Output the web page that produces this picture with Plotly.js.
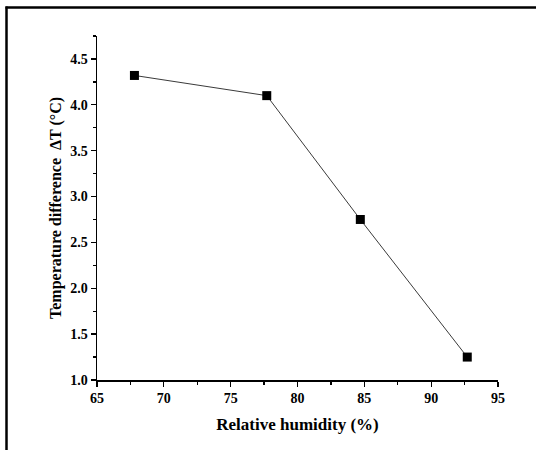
<!DOCTYPE html>
<html>
<head>
<meta charset="utf-8">
<script src="https://cdn.plot.ly/plotly-3.0.1.min.js"></script>
<style>
html,body{margin:0;padding:0;background:#fff;}
#chart{width:536px;height:450px;}
</style>
</head>
<body>
<div id="chart"></div>
<script>
const humidity = [67.8, 77.7, 84.7, 92.7];
const deltaT = [4.32, 4.10, 2.75, 1.25];
const xTicks = [65, 70, 75, 80, 85, 90, 95];
const yTicks = [1.0, 1.5, 2.0, 2.5, 3.0, 3.5, 4.0, 4.5];

const fontFam = 'Times New Roman, Liberation Serif, Tinos, serif';

const trace = {
  x: humidity,
  y: deltaT,
  mode: 'lines+markers',
  type: 'scatter',
  line: {color: '#3a3a3a', width: 1},
  marker: {symbol: 'square', size: 9, color: '#000000'},
  cliponaxis: false,
  hoverinfo: 'none'
};

const L = 97, R = 38, T = 36, B = 70, W = 536, H = 450;
const pw = W - L - R, ph = H - T - B;
const px = v => (v - L) / pw;
const py = v => (H - B - v) / ph;

const layout = {
  width: W, height: H,
  margin: {l: L, r: R, t: T, b: B, pad: 0},
  paper_bgcolor: '#ffffff',
  plot_bgcolor: '#ffffff',
  showlegend: false,
  font: {family: fontFam, color: '#000'},
  xaxis: {
    range: [65, 95],
    tickvals: xTicks,
    ticktext: xTicks.map(v => '<b>' + v + '</b>'),
    ticks: 'outside', ticklen: 5, tickwidth: 1.3, tickcolor: '#000',
    minor: {dtick: 2.5, tick0: 65, ticks: 'outside', ticklen: 3, tickwidth: 1.3, tickcolor: '#000', showgrid: false},
    showline: true, linecolor: '#000', linewidth: 1.5,
    showgrid: false, zeroline: false,
    tickfont: {family: fontFam, size: 14, color: '#000'},
    title: {text: '<b>Relative humidity (%)</b>', font: {family: fontFam, size: 17, color: '#000'}, standoff: 13},
    fixedrange: true
  },
  yaxis: {
    range: [1.0, 4.75],
    tickvals: yTicks,
    ticktext: yTicks.map(v => '<b>' + v.toFixed(1) + '</b>'),
    ticks: 'outside', ticklen: 5, tickwidth: 1.3, tickcolor: '#000',
    minor: {dtick: 0.25, tick0: 1.0, ticks: 'outside', ticklen: 3, tickwidth: 1.3, tickcolor: '#000', showgrid: false},
    showline: true, linecolor: '#000', linewidth: 1.5,
    showgrid: false, zeroline: false,
    tickfont: {family: fontFam, size: 14, color: '#000'},
    title: {text: '<b>Temperature difference\u00a0 ΔT (°C)</b>', font: {family: fontFam, size: 16, color: '#000'}, standoff: 4},
    fixedrange: true
  },
  shapes: [
    {type: 'line', xref: 'paper', yref: 'paper', x0: px(5.5), x1: px(536), y0: py(7.5), y1: py(7.5), line: {color: '#000', width: 2.5}},
    {type: 'line', xref: 'paper', yref: 'paper', x0: px(6.5), x1: px(6.5), y0: py(6.5), y1: py(450), line: {color: '#000', width: 2.5}}
  ]
};

Plotly.newPlot('chart', [trace], layout, {displayModeBar: false, staticPlot: true});
</script>
</body>
</html>
